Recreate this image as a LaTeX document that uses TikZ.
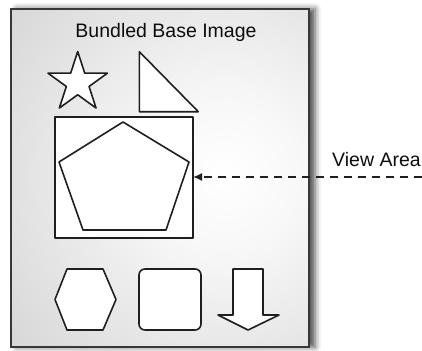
\documentclass[tikz,border=0pt]{standalone}
\usepackage{fontspec}
\setmainfont{Liberation Sans}
\usetikzlibrary{arrows.meta,shadows.blur,shapes.geometric}

% soft light spot inside the panel, fading to grey at the edges
\pgfdeclareradialshading{panelglow}{\pgfpoint{0bp}{0bp}}{%
  color(0bp)=(white); color(8bp)=(black!3); color(50bp)=(black!29); color(70bp)=(black!31)}

\tikzset{
  panelline/.style={draw=black!78, line width=1.8pt},
  shapeline/.style={draw=black!88, fill=white, line width=1.6pt, line join=round},
  labeltext/.style={font=\fontsize{19.5}{23}\selectfont, text=black!95, inner sep=0pt},
  viewarrow/.style={draw=black!88, line width=1.5pt, dash pattern=on 8pt off 6pt,
    -{Latex[length=9pt,width=8pt]}},
}

\begin{document}
\begin{tikzpicture}[x=1pt, y=-1pt]
  \useasboundingbox (0,0) rectangle (422,350);

  % panel with its shadow
  \node[fill=black!25, draw=none, inner sep=0pt, outer sep=0pt,
        minimum width=298pt, minimum height=338pt,
        blur shadow={shadow xshift=6pt, shadow yshift=0pt, shadow blur radius=6pt, shadow opacity=70}]
        (panel) at (160,178) {};
  \begin{scope}
    \clip (panel.north west) rectangle (panel.south east);
    \shade[shading=panelglow] (-15,-65) rectangle (465,415);
  \end{scope}
  \draw[panelline] (panel.north west) rectangle (panel.south east);

  \node[labeltext, anchor=base] (title) at (166,37.5) {Bundled Base Image};

  % top row: star and right triangle
  \node[star, star points=5, star point ratio=2.618, minimum size=62.5pt,
        inner sep=0pt, shapeline] (star) at (77.7,82.8) {};
  \draw[shapeline] (139.3,51.7) -- (139.3,111.7) -- (198.3,111.7) -- cycle;

  % visible area with the pentagon
  \node[shapeline, inner sep=0pt, outer sep=0pt,
        minimum width=138pt, minimum height=121pt] (view) at (124,177.5) {};
  \draw[shapeline] (123,122) -- (189,162) -- (166,230) -- (83,230) -- (59,162) -- cycle;

  % bottom row: hexagon, rounded square, down arrow
  \draw[shapeline] (55,299.5) -- (67,269) -- (103,269) -- (116,299.5)
        -- (103,330) -- (67,330) -- cycle;
  \draw[shapeline, rounded corners=6pt] (139,269) rectangle (201,330);
  \draw[shapeline] (233,269) -- (263,269) -- (263,315) -- (279,315)
        -- (248,330) -- (218,315) -- (233,315) -- cycle;

  % label and dashed pointer
  \node[labeltext, anchor=base west] (lbl) at (332,166) {View Area};
  \coordinate (far) at (422,177);
  \draw[viewarrow] (far) -- (view.east |- far);
\end{tikzpicture}
\end{document}
